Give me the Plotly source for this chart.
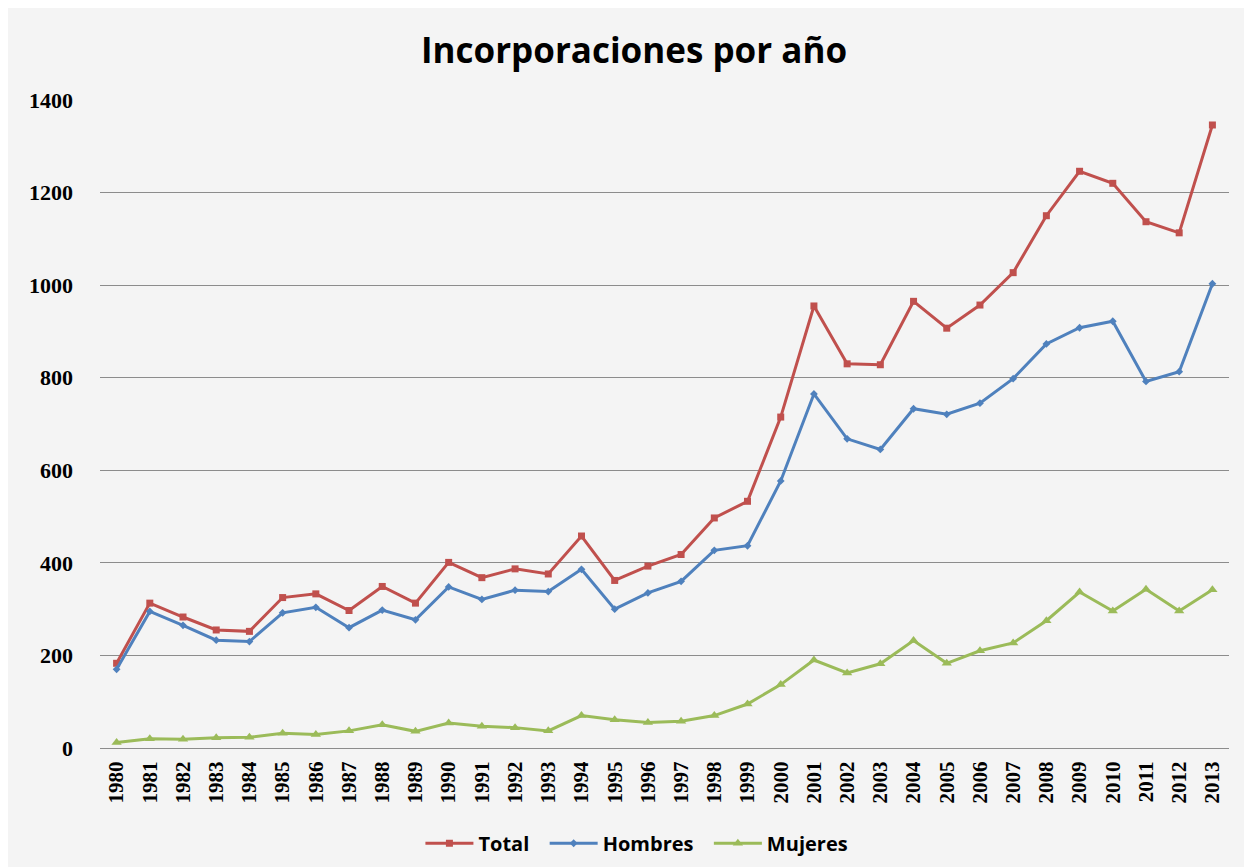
import plotly.graph_objects as go

years = [str(y) for y in range(1980, 2014)]

total = [183, 313, 283, 255, 252, 325, 333, 297, 349, 313,
         401, 368, 387, 376, 458, 362, 393, 418, 497, 533,
         715, 955, 830, 828, 965, 907, 957, 1027, 1150, 1246,
         1220, 1137, 1113, 1346]

hombres = [170, 295, 265, 233, 230, 292, 304, 260, 298, 277,
           348, 321, 341, 338, 386, 300, 335, 360, 427, 437,
           577, 765, 668, 645, 733, 721, 745, 798, 873, 908,
           922, 792, 813, 1003]

mujeres = [12, 20, 19, 22, 23, 32, 29, 37, 50, 36,
           54, 47, 44, 37, 70, 61, 55, 58, 70, 95,
           137, 190, 162, 182, 232, 183, 210, 227, 275, 337,
           296, 343, 296, 342]

y_ticks = [0, 200, 400, 600, 800, 1000, 1200, 1400]

series = [
    ("Total", total, "#C0504D", "square", 7),
    ("Hombres", hombres, "#4F81BD", "diamond", 6),
    ("Mujeres", mujeres, "#9BBB59", "triangle-up", 9),
]

fig = go.Figure()
for name, vals, col, sym, sz in series:
    fig.add_trace(go.Scatter(
        x=years, y=vals, name="<b>%s</b>&nbsp;&nbsp;" % name, mode="lines+markers",
        line=dict(color=col, width=3),
        marker=dict(symbol=sym, size=sz, color=col),
    ))

fig.update_layout(
    width=1252, height=867,
    margin=dict(l=92, r=31, t=92, b=127),
    paper_bgcolor="#f4f4f4",
    plot_bgcolor="#f4f4f4",
    title=dict(text="<b>Incorporaciones por año</b>", x=0.5, xanchor="center",
               y=0.951, yanchor="middle",
               font=dict(family="Open Sans", size=35, color="black")),
    legend=dict(orientation="h", x=0.48, xanchor="center", y=-0.147, yanchor="middle",
                font=dict(family="Open Sans", size=20, color="black"),
                bgcolor="rgba(0,0,0,0)", itemwidth=48),
    showlegend=True,
)
fig.update_xaxes(type="category", range=[-0.5, 33.5], tickangle=-90,
                 showgrid=False, showline=True, linecolor="#8c8c8c", linewidth=1,
                 tickfont=dict(family="Liberation Serif", size=21, color="black"),
                 ticks="", ticklabelstandoff=4, fixedrange=True)
fig.update_yaxes(range=[0, 1400], tickvals=y_ticks, showgrid=True,
                 gridcolor="#8c8c8c", gridwidth=1, zeroline=False, showline=False,
                 tickfont=dict(family="Liberation Serif", size=22, color="black"),
                 ticklabelstandoff=26, fixedrange=True)

# bold tick labels
fig.update_xaxes(ticktext=["<b>%s</b>" % y for y in years], tickvals=years)
fig.update_yaxes(ticktext=["<b>%d</b>" % v for v in y_ticks])

fig.write_html("out.html")
